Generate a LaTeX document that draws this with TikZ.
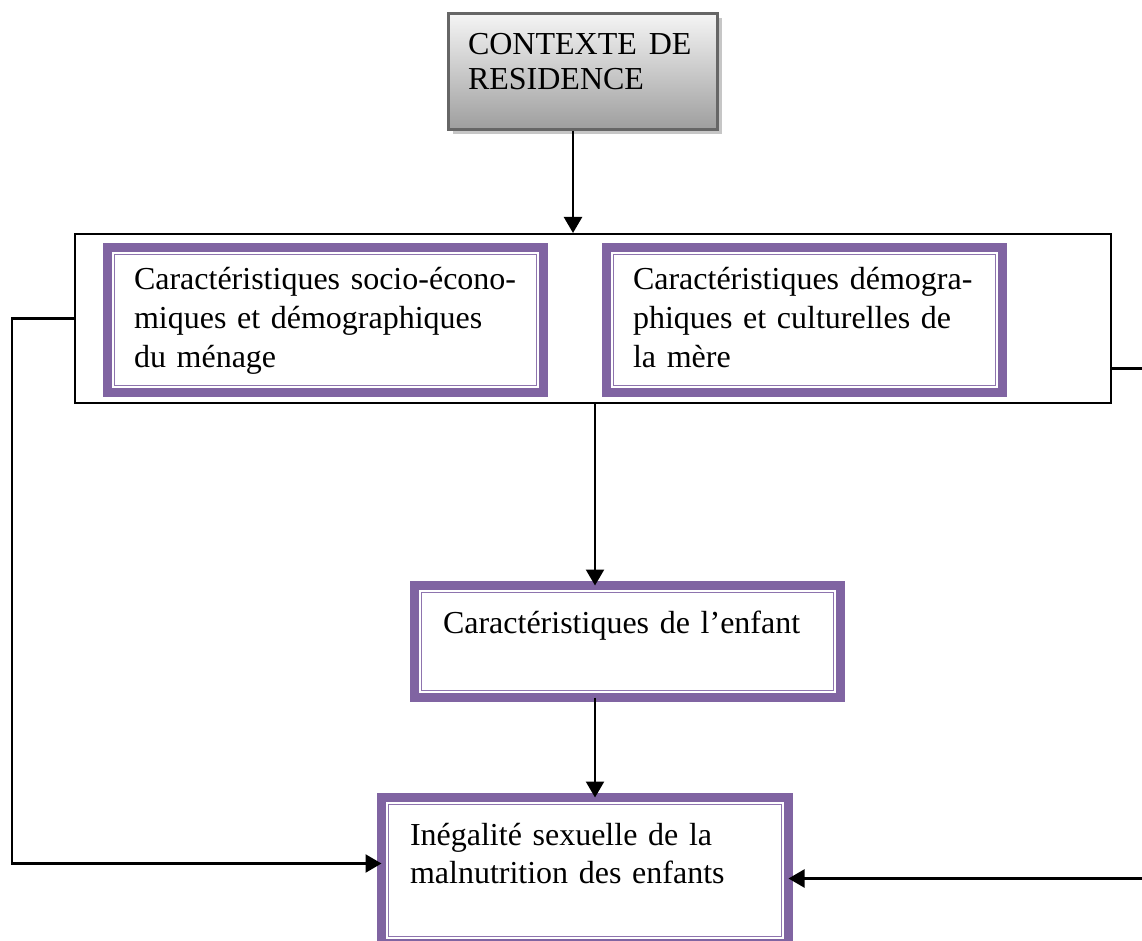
\documentclass[tikz,border=0pt]{standalone}
\usepackage{fontspec}
\setmainfont{Liberation Serif}
\usetikzlibrary{arrows.meta,shadows}
\definecolor{wpurple}{HTML}{8064A2}
\definecolor{wpurplel}{HTML}{8E74AE}
\definecolor{gborder}{HTML}{666666}
\definecolor{gshadow}{HTML}{C6C6C6}
\tikzset{
  pbox/.style={draw=wpurple, line width=9pt, fill=white, inner sep=0pt, outer sep=0pt,
    path picture={\draw[wpurplel, line width=1.8pt]
      ([shift={(7pt,-7pt)}]path picture bounding box.north west) rectangle
      ([shift={(-7pt,7pt)}]path picture bounding box.south east);}},
  gbox/.style={draw=gborder, line width=3pt, top color=white!96!black, bottom color=gray!76,
    inner sep=0pt, drop shadow={shadow xshift=4pt, shadow yshift=-5pt, fill=gshadow, opacity=1}},
  frame/.style={draw=black, line width=2pt, inner sep=0pt},
  txt/.style={inner sep=0pt, outer sep=0pt, align=left, anchor=base west},
  conn/.style={draw=black, line width=2.3pt},
  arr/.style={conn, -{Triangle[length=16pt,width=18pt]}}
}
\begin{document}
\begin{tikzpicture}[x=1pt,y=-1pt]
\useasboundingbox (0,0) rectangle (1142,941);
\clip (0,0) rectangle (1142,941);
\fontsize{32}{39}\selectfont
% top gray box
\node[gbox, minimum width=269pt, minimum height=116pt] (ctx) at (583,71.5) {};
\node[txt, text width=240pt, font=\fontsize{32}{35}\selectfont] (ctxt) at (468,55) {CONTEXTE\hspace{12pt}DE\\RESIDENCE};
% frame
\node[frame, minimum width=1036pt, minimum height=169pt] (outer) at (593,318.5) {};
\node[pbox, minimum width=436pt, minimum height=145pt] (sem) at (325.5,320) {};
\node[txt, text width=400pt] (semt) at (134,289) {Caractéristiques socio-écono-\\miques et démographiques\\du ménage};
\node[pbox, minimum width=396pt, minimum height=145pt] (mere) at (804.5,320) {};
\node[txt, text width=360pt] (meret) at (633,289) {Caractéristiques démogra-\\phiques et culturelles de\\la mère};
% child
\node[pbox, minimum width=426pt, minimum height=112pt] (enf) at (627.5,641.5) {};
\node[txt, text width=390pt] (enft) at (443,633) {Caractéristiques de l’enfant};
% outcome
\node[pbox, minimum width=407pt, minimum height=146pt] (ineg) at (585,870.5) {};
\node[txt, text width=370pt, font=\fontsize{32}{38}\selectfont] (inegt) at (410,845) {Inégalité sexuelle de la\\malnutrition des enfants};
% connectors
\coordinate (xa) at (573,0);
\coordinate (xb) at (595,0);
\coordinate (lx) at (12,0);
\coordinate (rx) at (1143,0);
\draw[arr] (ctx.south -| xa) -- (outer.north -| xa);
\draw[arr] (outer.south -| xb) -- (enf.north -| xb);
\draw[arr] (enf.south -| xb) -- (ineg.north -| xb);
\draw[arr] (outer.west) -- (outer.west -| lx) |- ([yshift=7pt]ineg.west);
\draw[arr] ([yshift=-50pt]outer.east) -- ([yshift=-50pt]outer.east -| rx) |- ([yshift=-8pt]ineg.east);
\end{tikzpicture}
\end{document}
